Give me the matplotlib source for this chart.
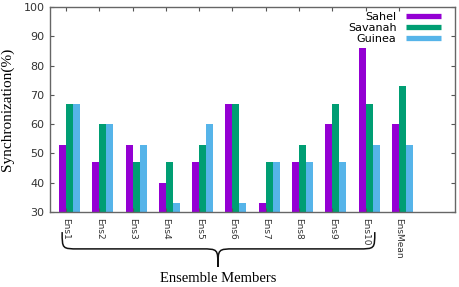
import matplotlib
matplotlib.use("Agg")
import matplotlib.pyplot as plt
import matplotlib.transforms as mtransforms
from matplotlib.path import Path
from matplotlib.patches import PathPatch
import numpy as np

members = ['Ens1', 'Ens2', 'Ens3', 'Ens4', 'Ens5', 'Ens6', 'Ens7', 'Ens8',
           'Ens9', 'Ens10', 'EnsMean']
sahel = [53, 47, 53, 40, 47, 67, 33, 47, 60, 86, 60]
savanah = [67, 60, 47, 47, 53, 67, 47, 53, 67, 67, 73]
guinea = [67, 60, 53, 33, 60, 33, 47, 47, 47, 53, 53]

series = [('Sahel', sahel, '#9400D3'),
          ('Savanah', savanah, '#009E73'),
          ('Guinea', guinea, '#56B4E9')]

fig = plt.figure(figsize=(4.59, 2.87), dpi=100)
ax = fig.add_axes([50 / 459, 1 - 212 / 287, 405 / 459, 205 / 287])

x = np.arange(len(members))
w = 0.21
for k, (name, vals, col) in enumerate(series):
    ax.bar(x + (k - 1) * w, np.array(vals) - 30, width=w, bottom=30,
           color=col, label=name, linewidth=0)

ax.set_xlim(-0.585, 11.58)
ax.set_ylim(30, 100)
ax.set_yticks(range(30, 101, 10))
ax.set_xticks(x - w / 2)
ax.set_xticklabels(members, rotation=270, fontsize=6.5, color='#333333',
                   va='top', ha='center')
ax.tick_params(axis='y', labelsize=8, labelcolor='#333333')
ax.tick_params(direction='in', length=3, color='#555555',
               top=True, right=True, pad=4)
for s in ax.spines.values():
    s.set_color('#666666')
    s.set_linewidth(1.0)

ax.set_ylabel('Synchronization(%)', family='Liberation Serif', fontsize=11,
              labelpad=7)

# legend: text on the left, sample on the right
handles = [plt.Line2D([], [], color=c, lw=3.8, solid_capstyle='butt')
           for _, _, c in series]
ax.legend(handles, [s[0] for s in series], loc='upper right',
          bbox_to_anchor=(0.965, 0.975), frameon=False, markerfirst=False,
          fontsize=8, handlelength=3.1, handletextpad=0.9, labelspacing=0.1,
          borderpad=0, borderaxespad=0)

# curly brace under the ensemble members
trans = mtransforms.blended_transform_factory(ax.transData, ax.transAxes)
x0, x1, xc = -0.22, 9.17, 4.46
yt, ym, yb = -0.098, -0.18, -0.268
d = 0.5
verts = [(x0, yt), (x0, ym), (x0, ym), (x0 + d, ym),
         (xc - d, ym),
         (xc, ym), (xc, ym), (xc, yb),
         (xc, ym), (xc, ym), (xc + d, ym),
         (x1 - d, ym),
         (x1, ym), (x1, ym), (x1, yt)]
codes = [Path.MOVETO, Path.CURVE4, Path.CURVE4, Path.CURVE4,
         Path.LINETO,
         Path.CURVE4, Path.CURVE4, Path.CURVE4,
         Path.CURVE4, Path.CURVE4, Path.CURVE4,
         Path.LINETO,
         Path.CURVE4, Path.CURVE4, Path.CURVE4]
brace = PathPatch(Path(verts, codes), transform=trans, fill=False,
                  edgecolor='#111111', lw=1.1, clip_on=False)
ax.add_patch(brace)
ax.text(xc, -0.322, 'Ensemble Members', transform=trans, ha='center',
        va='center', family='Liberation Serif', fontsize=10.5)

fig.savefig('out.png', dpi=100)
